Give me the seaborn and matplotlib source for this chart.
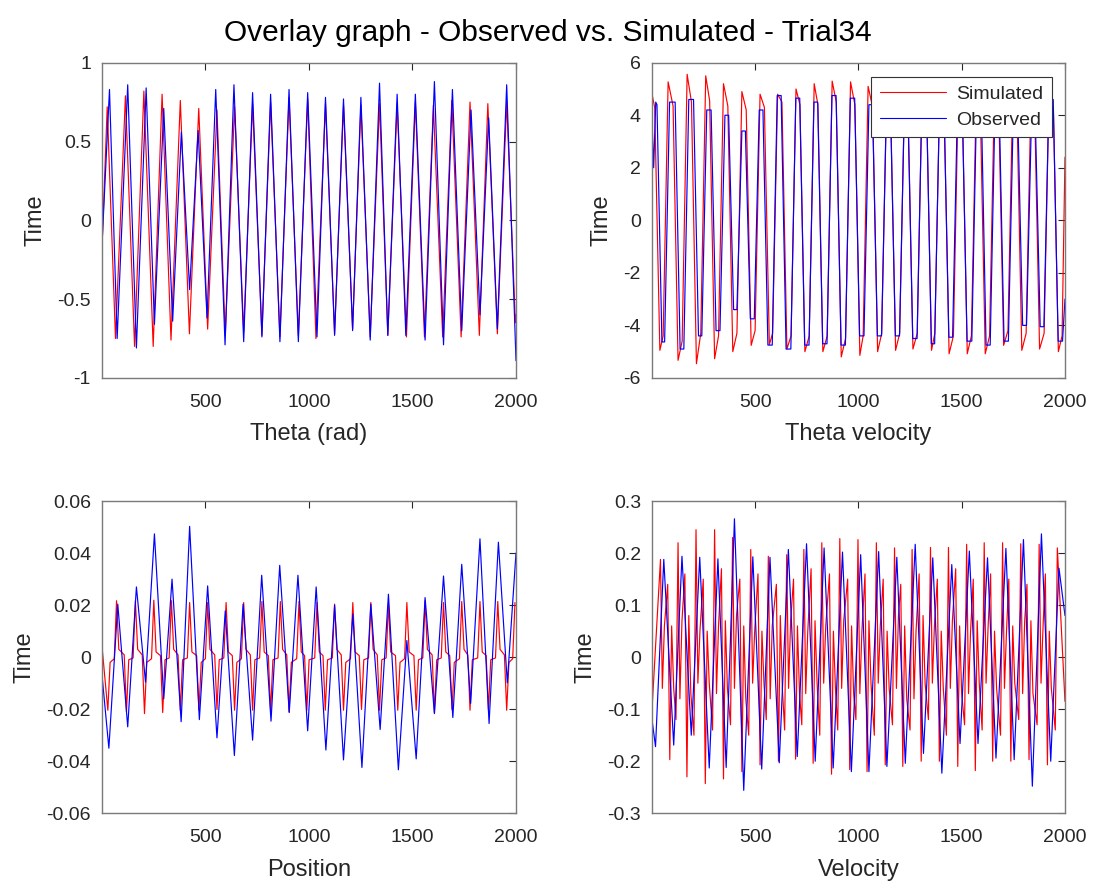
import numpy as np
import pandas as pd
import matplotlib
matplotlib.use("Agg")
import matplotlib.pyplot as plt
import seaborn as sns

# ---------------- data ----------------
# Panel 1: theta  (extrema sample index and value)
obs_th_peak_t = [37,125,214,299,384,465,550,638,728,815,904,994,1080,1167,1251,1341,1426,1514,1606,1693,1783,1868,1955]
obs_th_peak_v = [0.83,0.86,0.84,0.71,0.56,0.57,0.83,0.86,0.81,0.80,0.83,0.81,0.78,0.77,0.78,0.87,0.80,0.80,0.88,0.83,0.70,0.65,0.86]
obs_th_trough_t = [74,167,254,342,424,508,595,685,773,860,949,1039,1124,1211,1296,1381,1468,1561,1650,1738,1826,1910,2000]
obs_th_trough_v = [-0.75,-0.81,-0.66,-0.64,-0.44,-0.62,-0.79,-0.77,-0.74,-0.77,-0.77,-0.74,-0.73,-0.70,-0.76,-0.73,-0.73,-0.76,-0.79,-0.70,-0.60,-0.69,-0.89]
obs_th_start = -0.15
sim_th_peak_t = [26,114,203,291,379,468,556,641,728,815,904,994,1080,1167,1251,1341,1426,1514,1601,1690,1778,1864,1955]
sim_th_peak_v = [0.72,0.79,0.82,0.80,0.76,0.71,0.70,0.72,0.74,0.75,0.78,0.77,0.74,0.73,0.73,0.74,0.74,0.75,0.73,0.76,0.75,0.74,0.75]
sim_th_trough_t = [66,158,248,334,423,511,596,685,773,860,949,1034,1124,1211,1296,1381,1471,1558,1646,1735,1823,1910,1997]
sim_th_trough_v = [-0.75,-0.80,-0.80,-0.76,-0.72,-0.69,-0.73,-0.71,-0.73,-0.74,-0.73,-0.75,-0.72,-0.69,-0.74,-0.73,-0.74,-0.74,-0.74,-0.74,-0.73,-0.72,-0.65]
sim_th_start = -0.17
sim_th_end = -0.6

# Panel 2: theta velocity (plateau levels between sign changes)
obs_thv_fall_t = obs_th_peak_t
obs_thv_rise_t = obs_th_trough_t
obs_thv_low = [-4.63,-4.9,-4.4,-4.2,-3.4,-3.75,-4.75,-4.9,-4.75,-4.7,-4.75,-4.4,-4.4,-4.4,-4.5,-4.7,-4.45,-4.6,-4.75,-4.6,-4.0,-4.05,-4.6]
obs_thv_high = [4.5,4.6,4.2,4.0,3.4,4.2,4.75,4.65,4.5,4.75,4.65,4.4,4.4,4.5,4.8,4.5,4.6,4.8,4.6,4.2,4.0,4.6]
obs_thv_start = [3.8, 2.0, 4.5, 4.4]
obs_thv_end = -3.0
sim_thv_fall_t = sim_th_peak_t
sim_thv_rise_t = sim_th_trough_t
sim_thv_low = [-4.95,-5.33,-5.46,-5.27,-5.0,-4.76,-4.73,-4.9,-5.0,-5.0,-5.2,-5.14,-5.0,-4.95,-4.9,-4.95,-5.08,-5.08,-5.08,-4.76,-4.95,-4.9,-5.0]
sim_thv_low_sh = [-4.4,-4.6,-4.3,-4.4,-4.3,-4.2,-4.3,-4.4,-4.4,-4.4,-4.5,-4.4,-4.3,-4.3,-4.3,-4.3,-4.4,-4.4,-4.4,-4.2,-4.3,-4.3,-4.4]
sim_thv_high = [5.27,5.56,5.5,5.2,4.9,4.8,4.8,5.0,5.2,5.3,5.27,5.1,5.0,5.1,5.2,5.0,5.1,5.0,5.1,5.2,5.0,4.9]
sim_thv_high_sh = [4.35,4.5,4.55,4.35,4.2,4.3,4.5,4.4,4.4,4.5,4.4,4.3,4.3,4.4,4.4,4.3,4.4,4.3,4.4,4.4,4.3,4.2]
sim_thv_start = [4.8, 4.3]
sim_thv_end = 2.4

# Panel 3: position
obs_pos_trough_t = [34,125,211,299,383,471,556,640,728,817,905,994,1082,1167,1256,1344,1432,1518,1606,1695,1781,1870,1958]
obs_pos_trough_v = [-0.035,-0.0268,-0.0096,-0.016,-0.0248,-0.024,-0.031,-0.0378,-0.0319,-0.0246,-0.0213,-0.0283,-0.0357,-0.0395,-0.0424,-0.0278,-0.0433,-0.0391,-0.0217,-0.0232,-0.0178,-0.0255,-0.0099]
obs_pos_peak_t = [77,167,254,339,424,511,596,682,772,859,947,1035,1124,1212,1299,1384,1473,1561,1650,1738,1826,1915,2000]
obs_pos_peak_v = [0.0204,0.027,0.0474,0.030,0.0503,0.0274,0.0178,0.0204,0.0315,0.0353,0.0315,0.027,0.020,0.0166,0.0204,0.0242,0.0064,0.0229,0.0312,0.0357,0.0455,0.0442,0.040]
obs_pos_start = -0.007
sim_pos_trough_t = [29,119,206,294,379,469,556,641,728,815,904,990,1079,1167,1254,1341,1429,1518,1606,1691,1778,1867,1955]
sim_pos_trough_v = [-0.0204,-0.021,-0.0217,-0.0213,-0.0204,-0.0204,-0.0201,-0.0204,-0.0204,-0.021,-0.021,-0.0204,-0.0204,-0.0204,-0.0201,-0.0204,-0.0204,-0.0204,-0.0214,-0.0201,-0.0204,-0.0204,-0.0204]
sim_pos_peak_t = [71,162,251,336,424,511,600,685,773,862,952,1039,1124,1212,1299,1384,1473,1561,1650,1738,1826,1912,1995]
sim_pos_peak_v = [0.0217,0.0217,0.0219,0.0217,0.021,0.021,0.021,0.021,0.0214,0.0214,0.0214,0.021,0.0204,0.021,0.021,0.0204,0.021,0.0217,0.021,0.0214,0.0214,0.0214,0.021]
sim_pos_mid_hi = [0.003,0.003,0.002,0.003,0.002,0.003,0.002,0.003,0.002,0.003,0.002,0.002,0.003,0.002,0.003,0.002,0.002,0.003,0.002,0.003,0.002,0.003]
sim_pos_mid_lo = [-0.002,-0.001,-0.002,-0.001,-0.001,-0.002,-0.001,-0.002,-0.001,-0.001,-0.002,-0.001,-0.001,-0.002,-0.001,-0.001,-0.002,-0.001,-0.001,-0.002,-0.001,-0.001,-0.002]
sim_pos_start = 0.004

# Panel 4: velocity
obs_vel_trough_t = [18,106,191,278,360,445,532,617,704,791,878,966,1051,1138,1227,1315,1404,1492,1579,1666,1754,1842,1931]
obs_vel_trough_v = [-0.172,-0.169,-0.15,-0.213,-0.212,-0.256,-0.215,-0.203,-0.191,-0.2,-0.213,-0.22,-0.22,-0.21,-0.204,-0.185,-0.223,-0.166,-0.166,-0.194,-0.197,-0.248,-0.2]
obs_vel_peak_t = [58,146,232,320,400,489,572,661,749,834,923,1011,1098,1186,1275,1360,1452,1537,1625,1714,1799,1886,1971]
obs_vel_peak_v = [0.188,0.194,0.192,0.189,0.266,0.193,0.192,0.207,0.218,0.21,0.202,0.197,0.203,0.192,0.217,0.191,0.178,0.204,0.191,0.209,0.226,0.237,0.171]
obs_vel_start = -0.12
obs_vel_end = 0.08
sim_vel_peak_t = [42,127,214,304,391,479,564,653,736,823,910,998,1087,1175,1260,1349,1436,1524,1609,1698,1786,1875,1963]
sim_vel_peak_v = [0.188,0.22,0.245,0.245,0.23,0.207,0.194,0.197,0.207,0.22,0.228,0.226,0.22,0.21,0.207,0.211,0.211,0.217,0.22,0.22,0.218,0.217,0.21]
sim_vel_trough_t = [87,170,259,347,436,524,613,696,781,870,958,1042,1130,1215,1304,1392,1481,1566,1650,1738,1826,1915]
sim_vel_trough_v = [-0.197,-0.23,-0.243,-0.234,-0.22,-0.207,-0.20,-0.196,-0.204,-0.225,-0.216,-0.22,-0.207,-0.21,-0.2,-0.2,-0.21,-0.218,-0.2,-0.2,-0.197,-0.207]
sim_vel_mid_pos = [0.14,0.16,0.15,0.17,0.15,0.16,0.14,0.15,0.17,0.16,0.15,0.16,0.15,0.14,0.16,0.15,0.17,0.15,0.16,0.15,0.14,0.16]
sim_vel_mid_neg = [-0.12,-0.15,-0.14,-0.13,-0.15,-0.12,-0.14,-0.13,-0.15,-0.14,-0.12,-0.15,-0.13,-0.14,-0.12,-0.15,-0.13,-0.14,-0.15,-0.12,-0.13,-0.14]
sim_vel_wig_a = [-0.06,-0.08,-0.05,-0.07,-0.06,-0.05,-0.08,-0.06,-0.07,-0.05,-0.06,-0.07,-0.05,-0.06,-0.08,-0.05,-0.06,-0.07,-0.05,-0.06,-0.07,-0.05]
sim_vel_wig_b = [0.06,0.07,0.05,0.06,0.08,0.05,0.06,0.07,0.05,0.06,0.07,0.05,0.06,0.08,0.05,0.06,0.07,0.05,0.06,0.05,0.07,0.06]
sim_vel_start = -0.1
sim_vel_end = -0.085

series_names = ["Simulated", "Observed"]
x_labels = ["Theta (rad)", "Theta velocity", "Position", "Velocity"]
y_label = "Time"
title = "Overlay graph - Observed vs. Simulated - Trial34"
y_limits = [(-1, 1), (-6, 6), (-0.06, 0.06), (-0.3, 0.3)]
y_ticks = [[-1, -0.5, 0, 0.5, 1], [-6, -4, -2, 0, 2, 4, 6],
           [-0.06, -0.04, -0.02, 0, 0.02, 0.04, 0.06], [-0.3, -0.2, -0.1, 0, 0.1, 0.2, 0.3]]
x_ticks = [500, 1000, 1500, 2000]

# ---------------- helpers to assemble polylines ----------------
def merge(pts):
    pts = sorted(pts, key=lambda p: p[0])
    return pd.DataFrame(pts, columns=["t", "v"])

def extrema_line(start_v, ta, va, tb, vb, end=None):
    pts = [(1, start_v)] + list(zip(ta, va)) + list(zip(tb, vb))
    if end is not None:
        pts.append(end)
    return merge(pts)

def plateau_line(start_pts, fall_t, low, rise_t, high, end_v, ramp=6, low_sh=None, high_sh=None, spike=6):
    crosses = sorted([(t, "f") for t in fall_t] + [(t, "r") for t in rise_t])
    pts = list(start_pts)
    fi = ri = 0
    for k, (t, kind) in enumerate(crosses):
        nxt = crosses[k + 1][0] if k + 1 < len(crosses) else 2000
        if kind == "f":
            a = low[fi]; b = low_sh[fi] if low_sh else a; fi += 1
        else:
            if ri >= len(high):
                break
            a = high[ri]; b = high_sh[ri] if high_sh else a; ri += 1
        pts.append((t + spike, a))
        if nxt - ramp > t + spike:
            pts.append((min(nxt - ramp, 2000), b))
    pts.append((2000, end_v))
    return merge([p for p in pts if p[0] <= 2000])

def sim_pos_line():
    pts = [(1, sim_pos_start)]
    ext = sorted([(t, v, "t") for t, v in zip(sim_pos_trough_t, sim_pos_trough_v)] +
                 [(t, v, "p") for t, v in zip(sim_pos_peak_t, sim_pos_peak_v)])
    hi = lo = 0
    for k, (t, v, kind) in enumerate(ext):
        pts.append((t, v))
        if k + 1 < len(ext):
            nxt = ext[k + 1][0]
            if kind == "p":
                m = sim_pos_mid_hi[hi]; hi += 1
            else:
                m = sim_pos_mid_lo[lo]; lo += 1
            pts.append((t + 11, m))
            pts.append((nxt - 11, m * 0.3))
    return merge(pts)

def sim_vel_line():
    pts = [(1, sim_vel_start)]
    for i, (t, v) in enumerate(zip(sim_vel_peak_t, sim_vel_peak_v)):
        pts.append((t, v))
        if i < len(sim_vel_trough_t):
            tt = sim_vel_trough_t[i]
            pts.append((t + 9, sim_vel_wig_a[i]))
            pts.append((t + 19, sim_vel_wig_b[i]))
            pts.append((tt - 10, sim_vel_mid_pos[i]))
            pts.append((tt, sim_vel_trough_v[i]))
            if i + 1 < len(sim_vel_peak_t):
                tn = sim_vel_peak_t[i + 1]
                pts.append((tt + 9, -sim_vel_wig_a[i]))
                pts.append((tt + 19, -sim_vel_wig_b[i]))
                pts.append((tn - 10, sim_vel_mid_neg[i]))
    pts.append((2000, sim_vel_end))
    return merge(pts)

panels = [
    (extrema_line(sim_th_start, sim_th_peak_t, sim_th_peak_v, sim_th_trough_t, sim_th_trough_v, (2000, sim_th_end)),
     extrema_line(obs_th_start, obs_th_peak_t, obs_th_peak_v, obs_th_trough_t, obs_th_trough_v)),
    (plateau_line([(1, sim_thv_start[0]), (14, sim_thv_start[1])], sim_thv_fall_t, sim_thv_low,
                  sim_thv_rise_t, sim_thv_high, sim_thv_end, ramp=11, low_sh=sim_thv_low_sh,
                  high_sh=sim_thv_high_sh, spike=13),
     plateau_line([(1, obs_thv_start[0]), (9, obs_thv_start[1]), (19, obs_thv_start[2]), (25, obs_thv_start[3])],
                  obs_thv_fall_t, obs_thv_low, obs_thv_rise_t, obs_thv_high, obs_thv_end, ramp=12, spike=12)),
    (sim_pos_line(),
     extrema_line(obs_pos_start, obs_pos_peak_t, obs_pos_peak_v, obs_pos_trough_t, obs_pos_trough_v)),
    (sim_vel_line(),
     extrema_line(obs_vel_start, obs_vel_peak_t, obs_vel_peak_v, obs_vel_trough_t, obs_vel_trough_v, (2000, obs_vel_end))),
]

# ---------------- drawing ----------------
sns.set_theme(style="white")
plt.rcParams["font.family"] = ["Liberation Sans", "DejaVu Sans"]
fig = plt.figure(figsize=(10.96, 8.83), dpi=100)

boxes = [(0.0931, 0.5720, 0.3777, 0.3570),
         (0.5949, 0.5720, 0.3768, 0.3570),
         (0.0931, 0.0790, 0.3777, 0.3535),
         (0.5949, 0.0790, 0.3768, 0.3535)]
text_c = "#262626"
for i, (box, (sim_df, obs_df)) in enumerate(zip(boxes, panels)):
    ax = fig.add_axes(box)
    sns.lineplot(data=sim_df, x="t", y="v", ax=ax, color="#ff0000", linewidth=0.85,
                 estimator=None, sort=False, label=series_names[0])
    sns.lineplot(data=obs_df, x="t", y="v", ax=ax, color="#0000ff", linewidth=0.85,
                 estimator=None, sort=False, label=series_names[1])
    ax.set_xlim(1, 2000)
    ax.set_ylim(*y_limits[i])
    ax.set_xticks(x_ticks)
    ax.set_yticks(y_ticks[i])
    ax.set_yticklabels([f"{v:g}" for v in y_ticks[i]])
    ax.set_xlabel(x_labels[i], fontsize=17, color=text_c, labelpad=9)
    ax.set_ylabel(y_label, fontsize=17, color=text_c, labelpad=8)
    ax.tick_params(axis="both", direction="in", length=5, width=0.8, top=True, right=True,
                   labelsize=14, colors=text_c, pad=8)
    ax.tick_params(axis="x", pad=11.5)
    for s in ax.spines.values():
        s.set_color("#7a7a7a")
        s.set_linewidth(1.0)
    if i == 1:
        leg = ax.legend(loc="upper right", fontsize=14, frameon=True, fancybox=False,
                        handlelength=3.4, handletextpad=0.5, borderpad=0.45, labelspacing=0.4,
                        bbox_to_anchor=(0.968, 0.955), borderaxespad=0)
        leg.get_frame().set_edgecolor("#333333")
        leg.get_frame().set_linewidth(0.8)
        leg.get_frame().set_alpha(1.0)
        for line in leg.get_lines():
            line.set_linewidth(0.8)
    else:
        ax.get_legend().remove()

fig.suptitle(title, fontsize=21.5, color="black", y=0.963, va="center")
fig.savefig("out.png", dpi=100, facecolor="white")
